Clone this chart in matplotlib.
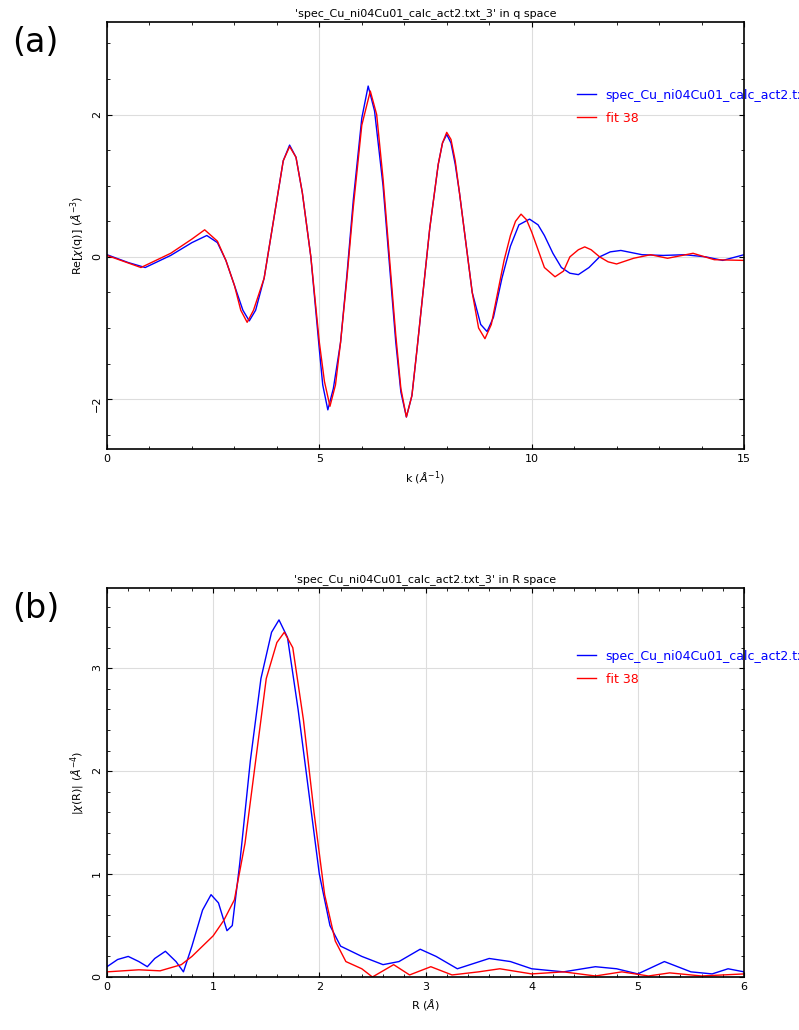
import numpy as np
import matplotlib.pyplot as plt

# q space (k, Re chi(q))
k_data = [0, 0.5, 0.9, 1.5, 2, 2.35, 2.6, 2.8, 3, 3.2, 3.35, 3.5, 3.7, 3.85, 4, 4.15, 4.3, 4.45, 4.6, 4.8, 5, 5.08, 5.2, 5.33, 5.5, 5.65, 5.8, 6.0, 6.15, 6.3, 6.5, 6.65, 6.8, 6.92, 7.05, 7.18, 7.3, 7.45, 7.6, 7.8, 7.9, 8.0, 8.1, 8.2, 8.3, 8.45, 8.6, 8.8, 8.95, 9.1, 9.3, 9.5, 9.7, 9.95, 10.15, 10.3, 10.5, 10.7, 10.9, 11.1, 11.35, 11.6, 11.85, 12.1, 12.6, 13.1, 13.6, 14.1, 14.5, 15]
q_data = [0.03, -0.08, -0.15, 0.02, 0.2, 0.3, 0.2, -0.05, -0.4, -0.75, -0.9, -0.75, -0.3, 0.25, 0.8, 1.35, 1.57, 1.4, 0.9, 0.0, -1.3, -1.8, -2.15, -1.85, -1.2, -0.25, 0.8, 1.95, 2.4, 2.05, 1.0, -0.1, -1.2, -1.9, -2.25, -1.95, -1.3, -0.45, 0.4, 1.3, 1.6, 1.72, 1.6, 1.3, 0.9, 0.2, -0.5, -0.95, -1.05, -0.85, -0.3, 0.15, 0.45, 0.53, 0.45, 0.3, 0.05, -0.15, -0.23, -0.25, -0.15, 0.0, 0.07, 0.09, 0.03, 0.02, 0.03, 0.0, -0.05, 0.03]
k_fit = [0, 0.8, 1.5, 2, 2.3, 2.6, 2.8, 3, 3.15, 3.3, 3.45, 3.7, 3.85, 4, 4.15, 4.3, 4.45, 4.6, 4.8, 5, 5.12, 5.25, 5.38, 5.5, 5.65, 5.8, 6.0, 6.2, 6.35, 6.5, 6.65, 6.8, 6.92, 7.05, 7.18, 7.3, 7.45, 7.6, 7.8, 7.9, 8.0, 8.1, 8.2, 8.3, 8.45, 8.6, 8.75, 8.9, 9.05, 9.2, 9.35, 9.5, 9.62, 9.75, 9.88, 10.0, 10.15, 10.3, 10.55, 10.75, 10.9, 11.1, 11.25, 11.4, 11.6, 11.8, 12.0, 12.4, 12.8, 13.2, 13.8, 14.3, 15]
q_fit = [0.02, -0.15, 0.05, 0.25, 0.38, 0.22, -0.05, -0.4, -0.75, -0.92, -0.75, -0.3, 0.25, 0.8, 1.35, 1.55, 1.4, 0.9, 0.0, -1.2, -1.75, -2.1, -1.8, -1.2, -0.3, 0.7, 1.85, 2.33, 2.0, 1.1, 0.0, -1.1, -1.85, -2.25, -1.95, -1.3, -0.45, 0.4, 1.3, 1.6, 1.75, 1.65, 1.35, 0.9, 0.2, -0.5, -1.0, -1.15, -0.95, -0.5, -0.05, 0.3, 0.5, 0.6, 0.52, 0.35, 0.1, -0.15, -0.28, -0.2, 0.0, 0.1, 0.14, 0.1, 0.0, -0.07, -0.1, -0.02, 0.03, -0.02, 0.05, -0.04, -0.05]

# R space
r_data = [0, 0.1, 0.2, 0.3, 0.38, 0.45, 0.55, 0.65, 0.72, 0.8, 0.9, 0.98, 1.05, 1.13, 1.18, 1.25, 1.35, 1.45, 1.55, 1.62, 1.7, 1.8, 1.9, 2.0, 2.1, 2.2, 2.4, 2.6, 2.75, 2.95, 3.1, 3.3, 3.6, 3.8, 4.0, 4.3, 4.6, 4.8, 5.0, 5.25, 5.5, 5.7, 5.85, 6]
m_data = [0.1, 0.17, 0.2, 0.15, 0.1, 0.18, 0.25, 0.15, 0.05, 0.3, 0.65, 0.8, 0.72, 0.45, 0.5, 1.1, 2.1, 2.9, 3.35, 3.47, 3.3, 2.6, 1.8, 1.0, 0.5, 0.3, 0.2, 0.12, 0.15, 0.27, 0.2, 0.08, 0.18, 0.15, 0.08, 0.05, 0.1, 0.08, 0.03, 0.15, 0.05, 0.03, 0.08, 0.05]
r_fit = [0, 0.3, 0.5, 0.7, 0.8, 0.9, 1.0, 1.1, 1.2, 1.3, 1.4, 1.5, 1.6, 1.67, 1.75, 1.85, 1.95, 2.05, 2.15, 2.25, 2.4, 2.5, 2.7, 2.85, 3.05, 3.25, 3.5, 3.7, 4.0, 4.3, 4.6, 4.85, 5.1, 5.3, 5.6, 6]
m_fit = [0.05, 0.07, 0.06, 0.12, 0.2, 0.3, 0.4, 0.55, 0.75, 1.3, 2.1, 2.9, 3.25, 3.35, 3.2, 2.5, 1.6, 0.8, 0.35, 0.15, 0.08, 0.0, 0.12, 0.02, 0.1, 0.02, 0.05, 0.08, 0.03, 0.05, 0.01, 0.05, 0.01, 0.04, 0.01, 0.03]

W, H = 799, 1030
fig = plt.figure(figsize=(W / 100, H / 100), dpi=100)
ax1 = fig.add_axes([107 / W, 1 - 449 / H, 637 / W, 427 / H])
ax2 = fig.add_axes([107 / W, 1 - 977 / H, 637 / W, 389 / H])

def style(ax, title, xlabel, ylabel):
    ax.set_title(title, fontsize=8, pad=4)
    ax.set_xlabel(xlabel, fontsize=8)
    ax.set_ylabel(ylabel, fontsize=8)
    ax.grid(True, color='#dddddd', lw=0.8)
    ax.minorticks_on()
    ax.tick_params(which='both', direction='in', top=True, right=True, labelsize=8)
    ax.tick_params(axis='y', labelrotation=90)
    for s in ax.spines.values():
        s.set_linewidth(1.2)

ax1.plot(k_data, q_data, color='blue', lw=1, label='spec_Cu_ni04Cu01_calc_act2.txt_3')
ax1.plot(k_fit, q_fit, color='red', lw=1, label='fit 38')
ax1.set_xlim(0, 15)
ax1.set_ylim(-2.7, 3.3)
ax1.set_xticks([0, 5, 10, 15])
ax1.set_yticks([-2, 0, 2])
style(ax1, "'spec_Cu_ni04Cu01_calc_act2.txt_3' in q space", r'k ($\AA^{-1}$)', r'Re[$\chi$(q)] ($\AA^{-3}$)')

ax2.plot(r_data, m_data, color='blue', lw=1, label='spec_Cu_ni04Cu01_calc_act2.txt_3')
ax2.plot(r_fit, m_fit, color='red', lw=1, label='fit 38')
ax2.set_xlim(0, 6)
ax2.set_ylim(0, 3.78)
ax2.set_yticks([0, 1, 2, 3])
style(ax2, "'spec_Cu_ni04Cu01_calc_act2.txt_3' in R space", r'R ($\AA$)', r'|$\chi$(R)| ($\AA^{-4}$)')

for ax in (ax1, ax2):
    leg = ax.legend(loc='upper left', bbox_to_anchor=(0.72, 0.87), frameon=False,
                    fontsize=9, handlelength=1.5, labelspacing=0.8)
    for t, c in zip(leg.get_texts(), ['blue', 'red']):
        t.set_color(c)

fig.text(12 / W, 1 - 42 / H, '(a)', fontsize=24, va='center')
fig.text(12 / W, 1 - 608 / H, '(b)', fontsize=24, va='center')

fig.savefig('out.png', dpi=100)
